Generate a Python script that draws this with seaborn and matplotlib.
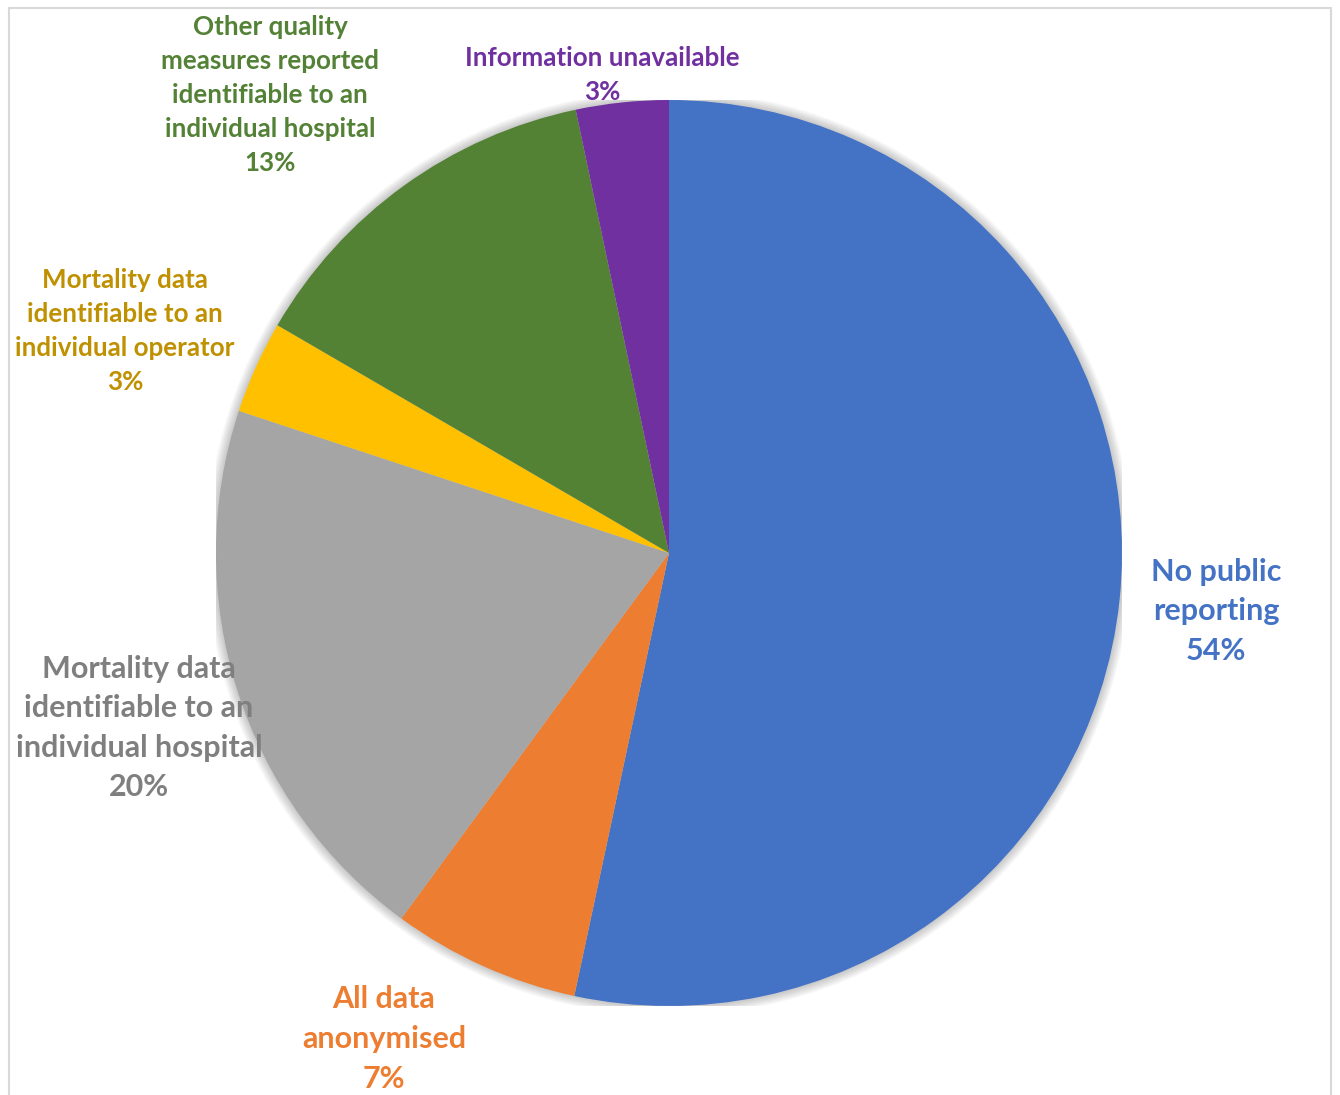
import matplotlib
matplotlib.use("Agg")
import matplotlib.pyplot as plt
from matplotlib.patches import Rectangle, Circle
import seaborn as sns

# slice shares, clockwise from 12 o'clock
categories = [
    "No public\nreporting",
    "All data\nanonymised",
    "Mortality data\nidentifiable to an\nindividual hospital",
    "Mortality data\nidentifiable to an\nindividual operator",
    "Other quality\nmeasures reported\nidentifiable to an\nindividual hospital",
    "Information unavailable",
]
shares = [53.3, 6.7, 20.0, 3.3, 13.3, 3.3]
pct_labels = ["54%", "7%", "20%", "3%", "13%", "3%"]

slice_colors = sns.color_palette(["#4472C4", "#ED7D31", "#A5A5A5", "#FFC000", "#548235", "#7030A0"])
text_colors = ["#4472C4", "#ED7D31", "#7F7F7F", "#BF9000", "#538135", "#7030A0"]

sns.set_theme(style="white")
plt.rcParams["font.family"] = ["Lato", "DejaVu Sans"]

W, H = 1340, 1095
fig = plt.figure(figsize=(W / 100, H / 100), dpi=100)
fig.patch.set_facecolor("white")

# pie centre (669, 553) px, radius 453 px
cx, cy, r = 669, 553, 453
ax = fig.add_axes([(cx - r) / W, (H - cy - r) / H, 2 * r / W, 2 * r / H])

# soft shadow round the pie
for k in range(6):
    ax.add_patch(Circle((0, 0), 1.0 + 0.0035 * (k + 1), color="#000000",
                        alpha=0.035, linewidth=0, zorder=0))

ax.pie(shares, colors=slice_colors, startangle=90, counterclock=False,
       wedgeprops=dict(linewidth=0))
ax.set_xlim(-1, 1)
ax.set_ylim(-1, 1)
ax.set_aspect("equal")
ax.axis("off")

# label centres in pixels, font size, line spacing
label_pos = [(1216, 611, 22, 1.5), (384, 1039, 22, 1.5), (139, 728, 22, 1.5),
             (125, 331, 18.7, 1.5), (270, 95, 18.7, 1.5), (602, 75, 18.7, 1.5)]
for cat, pct, col, (x, y, fs, ls) in zip(categories, pct_labels, text_colors, label_pos):
    fig.text(x / W, 1 - y / H, f"{cat}\n{pct}", ha="center", va="center",
             multialignment="center", fontsize=fs, fontweight="bold",
             color=col, linespacing=ls)

# chart-area border
fig.patches.append(Rectangle((9 / W, -0.05), (1331 - 9) / W, 1.05 - 8 / H,
                             transform=fig.transFigure, fill=False,
                             edgecolor="#D9D9D9", linewidth=1.5))

fig.savefig("out.png", dpi=100)
